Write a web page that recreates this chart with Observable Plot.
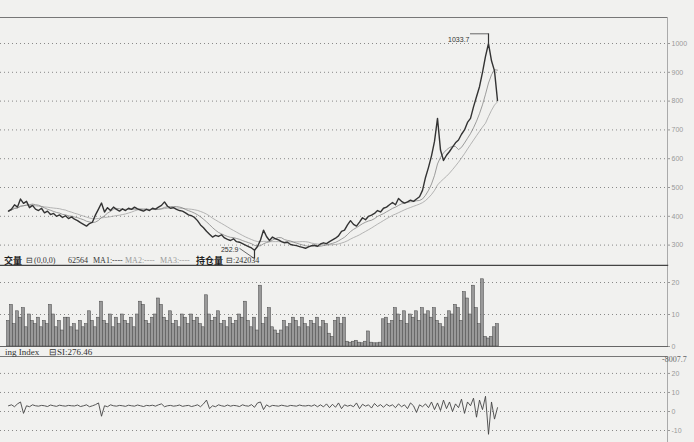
<!DOCTYPE html>
<html><head><meta charset="utf-8">
<script src="https://cdn.jsdelivr.net/npm/d3@7"></script>
<script src="https://cdn.jsdelivr.net/npm/@observablehq/plot@0.6"></script>
<style>
html,body{margin:0;padding:0;background:#f1f1ef;}
#wrap{position:relative;width:694px;height:442px;overflow:hidden;}
.p{position:absolute;left:0;}
.t{position:absolute;white-space:nowrap;font-family:"Liberation Serif","Noto Sans CJK SC",serif;font-size:9px;color:#333;line-height:10px;}
.s{font-size:8px;}
.cjk{font-family:"Noto Sans CJK SC",sans-serif;font-size:9px;font-weight:bold;color:#222;line-height:9px;}
</style></head><body><div id="wrap"></div>
<script>
// ---- data ----
const closes = [418,425,440,432,460,445,452,430,438,425,
420,428,412,418,406,410,400,405,396,402,
392,398,390,385,378,372,366,375,380,405,
425,446,415,430,420,432,424,418,426,420,
428,424,432,426,422,418,424,420,428,425,
432,438,450,435,428,430,424,420,418,412,
405,402,396,385,370,360,348,338,328,334,
330,336,325,320,316,322,312,310,305,300,
295,290,282,295,318,352,330,316,328,322,
318,312,308,310,302,300,298,295,292,289,
294,298,300,296,304,308,305,312,318,324,
332,348,352,370,385,372,366,380,395,388,
400,404,410,420,415,428,432,440,448,440,
462,452,446,450,456,452,460,468,490,535,
570,610,660,740,630,594,612,625,640,655,
665,685,700,726,740,780,815,850,900,955,
1000,940,905,802];
const volumes = [8,13,7,11,9,12,6,10,8,7,
9,6,8,7,13,10,6,8,5,9,
9,6,7,5,8,6,7,11,8,6,
9,14,8,7,10,6,9,7,10,8,
7,9,6,10,14,13,8,7,9,10,
15,13,9,8,11,7,8,6,10,9,
7,10,8,9,7,6,16,10,8,9,
11,7,8,6,9,7,8,10,9,14,
8,6,9,5,19,7,9,12,6,5,
4,5,8,6,7,9,8,6,9,7,
6,8,7,9,6,8,7,4,3,8,
9,7,9,1.5,1.2,1.5,1.8,1.2,1.0,1.5,
4.7,1.2,1.0,1.0,1.2,8.5,9,7,8,12,
10,8,11,7,10,9,11,8,12,10,
11,9,12,8,7,6,9,11,10,13,
12,8,17,15,10,19,12,7,21,3,
2.5,3,6,7];
const swing = [3,3.5,2.5,4,5,-1,3,2.5,3.5,3,
2.8,3.2,3,2.6,3.4,3,2.7,3.3,3,2.8,
3.2,3,2.9,3.4,2.6,3,3.5,2.5,3,3.6,
4.5,-2.5,3,2.5,3.5,3,2.8,3.2,3,2.7,
3.3,3,2.8,3.4,3,2.6,3.2,3,3.3,2.8,
3.5,4,2.5,3,3.2,2.8,3,3.4,2.7,3,
3.2,2.6,3,3.5,2.5,4,6,1.5,3,2.5,
3.5,3,2.7,3.4,2.8,3.2,3,2.6,3.5,3,
2.8,3.6,2.2,4.5,5,1,3.5,2.5,3.2,3,
2.8,3.3,3,2.7,3.2,3,2.8,3.4,3,2.9,
3.2,2.8,3.5,2.5,3.5,2.4,4,2,3.8,2.2,
4.5,1.5,3.5,2.8,3.3,2.5,4.5,1.5,3.8,2.8,
3.5,1.8,4.2,2.6,3.6,2.2,3.8,2.8,3.5,2,
4,2.5,3.5,1.5,4.5,3,-0.5,3.5,2.5,4,
2,5,1,4.5,0.5,6,1.5,5,0,4,
2,6.5,-1,5,3,7,-3,6,1,8,
-12,5,-4,2];
const priceTicks = [300,400,500,600,700,800,900,1000];
const volTicks = [0,10,20];
const siTicks = [-10,0,10,20];
const peak = [{i:160, value:1033.7, label:"1033.7"}];
const trough = [{i:82, value:252.9, label:"252.9"}];

// ---- build ----
const priceData = closes.map((c,i)=>({i, close:c}));
const volData = volumes.map((v,i)=>({i, v}));
const siData = swing.map((v,i)=>({i, v}));
const X_DOMAIN = [-8/3, 659/3];
const wrap = document.getElementById("wrap");
const common = {width:694, marginLeft:0, marginRight:27,
  style:{background:"transparent", fontFamily:"Liberation Sans, sans-serif"}};
const grid = (t)=>Plot.gridY(t,{stroke:"#666", strokeOpacity:0.75, strokeDasharray:"1,3"});
const ax = (t)=>Plot.axisY(t,{anchor:"right", label:null, tickFormat:d=>String(d), tickSize:2, tickPadding:2, fontSize:7, color:"#999", stroke:"#999"});

const price = Plot.plot({...common, height:266, marginTop:17, marginBottom:1,
  x:{domain:X_DOMAIN, axis:null},
  y:{domain:[229.2,1090.3], axis:null},
  marks:[
    grid(priceTicks), ax(priceTicks),
    Plot.frame({anchor:"top", stroke:"#777"}),
    Plot.frame({anchor:"right", stroke:"#aaa"}),
    Plot.frame({anchor:"bottom", stroke:"#444", strokeWidth:1.4}),
    Plot.lineY(priceData, Plot.windowY({k:16, anchor:"end"}, {x:"i", y:"close", stroke:"#999", strokeWidth:0.7})),
    Plot.lineY(priceData, Plot.windowY({k:7, anchor:"end"}, {x:"i", y:"close", stroke:"#777", strokeWidth:0.7})),
    Plot.lineY(priceData, {x:"i", y:"close", stroke:"#333", strokeWidth:1.4}),
    Plot.ruleX([...peak, ...trough], {x:"i", y1:d=>closes[d.i], y2:"value", stroke:"#333", strokeWidth:1.2}),
    Plot.ruleY(peak, {y:"value", x1:d=>d.i-6, x2:"i", stroke:"#444", strokeWidth:0.8}),
    Plot.link(trough, {x1:d=>d.i-5, y1:d=>d.value+36, x2:"i", y2:"value", stroke:"#444", strokeWidth:0.8}),
    Plot.text(peak, {x:d=>d.i-6, y:"value", text:"label", textAnchor:"end", dx:-1, dy:6, fontSize:7, fill:"#333"}),
    Plot.text(trough, {x:d=>d.i-5, y:d=>d.value+36, text:"label", textAnchor:"end", dx:-1, dy:1, fontSize:7, fill:"#333"})
  ]});
price.classList.add("p"); price.style.top = "0px"; wrap.appendChild(price);

const vol = Plot.plot({...common, height:84, marginTop:0, marginBottom:4,
  x:{domain:X_DOMAIN, axis:null},
  y:{domain:[0,25], axis:null},
  marks:[
    grid(volTicks), ax(volTicks),
    Plot.frame({anchor:"right", stroke:"#aaa"}),
    Plot.frame({anchor:"bottom", stroke:"#666"}),
    Plot.rectY(volData, {x1:d=>d.i-0.5, x2:d=>d.i+0.5, y:"v", fill:"#999", stroke:"#444", strokeWidth:0.5})
  ]});
vol.classList.add("p"); vol.style.top = "266px"; wrap.appendChild(vol);

const si = Plot.plot({...common, height:86, marginTop:0, marginBottom:0,
  x:{domain:X_DOMAIN, axis:null},
  y:{domain:[-16.3,28.9], axis:null},
  marks:[
    grid(siTicks), ax(siTicks),
    Plot.frame({anchor:"top", stroke:"#777"}),
    Plot.frame({anchor:"right", stroke:"#aaa"}),
    Plot.lineY(siData, {x:"i", y:"v", stroke:"#444", strokeWidth:0.9})
  ]});
si.classList.add("p"); si.style.top = "356px"; wrap.appendChild(si);

// ---- headers ----
function txt(x, y, s, cls, color){
  const d = document.createElement("div");
  d.className = "t" + (cls ? " " + cls : "");
  d.style.left = x + "px"; d.style.top = y + "px";
  if (color) d.style.color = color;
  d.textContent = s; wrap.appendChild(d);
}
txt(4, 256, "交量", "cjk");
txt(26, 256, "⊟", "s");
txt(34, 256, "(0,0,0)", "s");
txt(68, 256, "62564", "s");
txt(93, 256, "MA1:----", "s");
txt(125, 256, "MA2:----", "s", "#999");
txt(160, 256, "MA3:----", "s", "#999");
txt(196, 256, "持仓量", "cjk");
txt(226, 256, "⊟:242034", "s");
txt(5, 347, "ing Index");
txt(49, 347, "⊟SI:276.46");
txt(662, 355, "-8007.7", "s", "#666");
</script></body></html>
